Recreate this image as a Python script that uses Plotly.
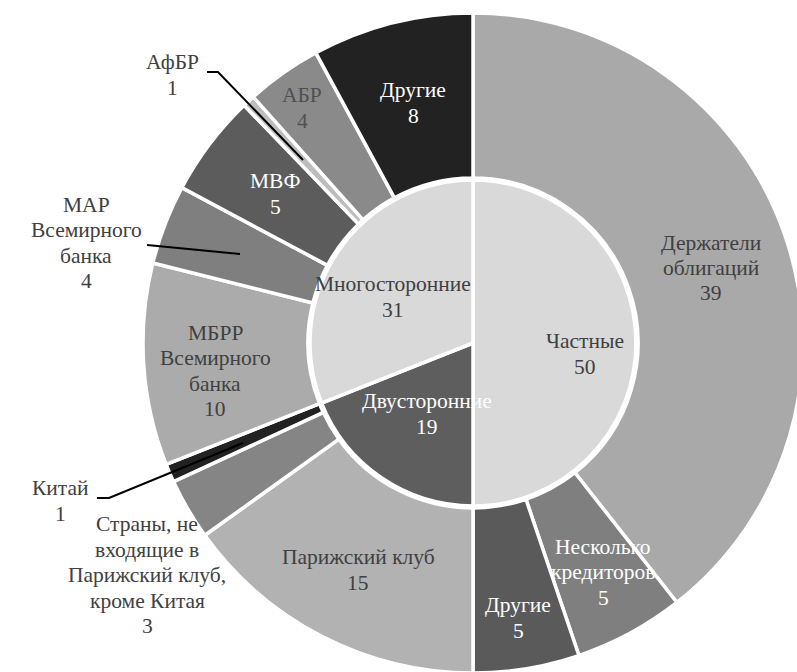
import plotly.graph_objects as go

# Debt structure by creditor type (percent of total)
inner_labels = ["Частные", "Двусторонние", "Многосторонние"]
inner_values = [50.0, 19.0, 31.0]

outer_labels = [
    "Держатели<br>облигаций",
    "Несколько<br>кредиторов",
    "Другие",
    "Парижский клуб",
    "Страны, не<br>входящие в<br>Парижский клуб,<br>кроме Китая",
    "Китай",
    "МБРР<br>Всемирного<br>банка",
    "МАР<br>Всемирного<br>банка",
    "МВФ",
    "АфБР",
    "АБР",
    "Другие",
]
outer_values = [39.4, 5.4, 5.2, 15.1, 3.0, 0.9, 9.9, 3.9, 5.0, 0.6, 3.7, 7.9]

inner_colors = ["#d9d9d9", "#5e5e5e", "#d9d9d9"]
outer_colors = ["#a9a9a9", "#7f7f7f", "#5a5a5a", "#b2b2b2", "#858585", "#222222",
                "#ababab", "#7f7f7f", "#5c5c5c", "#bdbdbd", "#8a8a8a", "#222222"]

W, H = 805, 675
CX, CY, R, R_IN = 473, 343, 330, 165
FONT = "Liberation Serif"
FONT_SIZE = 21.5
LINE_STEP = 25.5


def px(x, y):
    return x / W, 1 - y / H


def dom(r):
    x0, y0 = px(CX - r, CY + r)
    x1, y1 = px(CX + r, CY - r)
    return dict(x=[x0, x1], y=[y0, y1])


# Pie merges equal labels, so each outer slice gets its own key
outer_keys = [f"{i}: {lab.replace('<br>', ' ')}" for i, lab in enumerate(outer_labels)]

fig = go.Figure()
fig.add_trace(go.Pie(
    labels=outer_keys, values=outer_values, hole=0.5, sort=False,
    direction="clockwise", rotation=0, textinfo="none",
    marker=dict(colors=outer_colors, line=dict(color="white", width=3.5)),
    domain=dom(R), showlegend=False,
))
fig.add_trace(go.Pie(
    labels=inner_labels, values=inner_values, sort=False,
    direction="clockwise", rotation=0, textinfo="none",
    marker=dict(colors=inner_colors, line=dict(color="white", width=3.5)),
    domain=dom(R_IN - 2), showlegend=False,
))

DARK, LIGHT = "#404040", "#ffffff"
# label anchor (pixel centre) and text colour for each slice
inner_text = [((585, 354), DARK), ((427, 414), LIGHT), ((393, 297), DARK)]
outer_text = [
    ((711, 268), DARK), ((603, 572), LIGHT), ((518, 618), LIGHT),
    ((358, 570), DARK), ((147, 575), DARK), ((60, 501), DARK),
    ((215, 371), DARK), ((86, 243), DARK), ((275, 194), LIGHT),
    ((172, 75), DARK), ((302, 108), "#505050"), ((413, 103), LIGHT),
]

annotations = []
for labels, values, specs in ((inner_labels, inner_values, inner_text),
                              (outer_labels, outer_values, outer_text)):
    for lab, val, ((x, y), col) in zip(labels, values, specs):
        lines = f"{lab}<br>{val:.0f}".split("<br>")
        n = len(lines)
        for i, line in enumerate(lines):
            ax, ay = px(x, y + (i - (n - 1) / 2) * LINE_STEP)
            annotations.append(dict(
                x=ax, y=ay, xref="paper", yref="paper", showarrow=False,
                xanchor="center", yanchor="middle", text=line,
                font=dict(family=FONT, size=FONT_SIZE, color=col),
            ))

# leader lines for the thin slices
leaders = [
    [(207, 72), (218, 72), (303, 160)],     # АфБР
    [(147, 245), (240, 254)],               # МАР
    [(97, 498), (109, 498), (243, 443)],    # Китай
]
shapes = []
for pts in leaders:
    path = ""
    for i, (x, y) in enumerate(pts):
        a, b = px(x, y)
        path += ("M" if i == 0 else " L") + f" {a:.5f},{b:.5f}"
    shapes.append(dict(type="path", path=path, xref="paper", yref="paper",
                       line=dict(color="black", width=2)))

fig.update_layout(
    width=W, height=H,
    margin=dict(l=0, r=0, t=0, b=0),
    paper_bgcolor="white", plot_bgcolor="white",
    font=dict(family=FONT),
    annotations=annotations, shapes=shapes,
)

fig.write_html("out.html",
               post_script="document.body.style.margin='0';document.body.style.overflow='hidden';")
